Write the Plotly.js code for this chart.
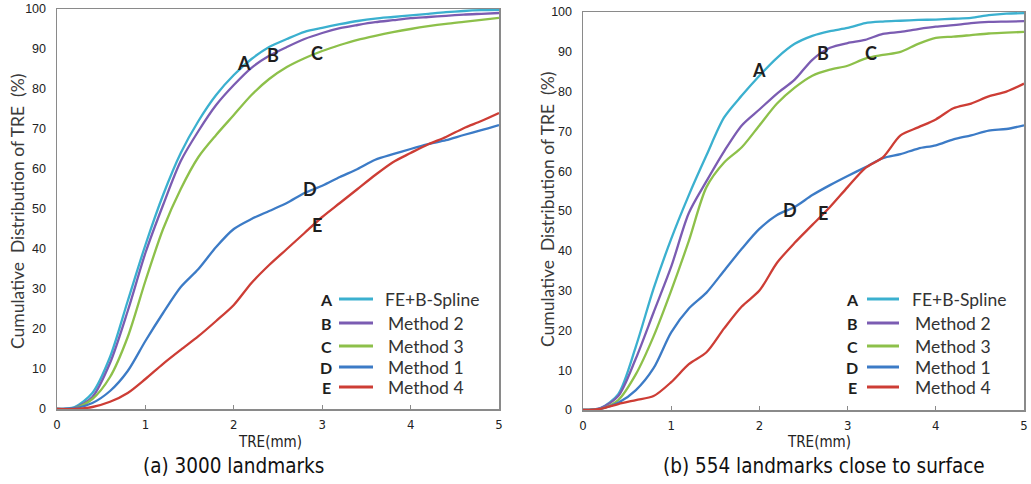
<!DOCTYPE html>
<html>
<head>
<meta charset="utf-8">
<script src="https://cdn.plot.ly/plotly-3.0.1.min.js"></script>
<style>html,body{margin:0;padding:0;background:#fff;}#chart{width:1031px;height:484px;}</style>
</head>
<body>
<div id="chart"></div>
<script>
// ---- data ----
const tre = [0,0.2,0.4,0.6,0.8,1.0,1.2,1.4,1.6,1.8,2.0,2.2,2.4,2.6,2.8,3.0,3.2,3.4,3.6,3.8,4.0,4.2,4.4,4.6,4.8,5.0];

// (a) 3000 landmarks
const feBSpline_a = [0,0.5,4,13,27,41,53.5,64,72,78.5,83.5,87.5,90.5,92.5,94.3,95.3,96.2,97,97.6,98,98.4,98.8,99.2,99.5,99.7,99.8];
const method2_a   = [0,0.3,3,11.5,24.5,39,51,62,69.5,76,81,85.3,88.3,90.5,92.5,94,95.2,96,96.7,97.2,97.7,98,98.3,98.6,98.8,99];
const method3_a   = [0,0.2,2.5,8,18,32,45,55,63,68.5,73.5,78.5,82.5,85.5,87.7,89.5,91,92.3,93.3,94.2,95,95.7,96.3,96.8,97.3,97.8];
const method1_a   = [0,0.2,1.5,4.5,9.5,17,24,30.5,35,40.5,45,47.5,49.5,51.5,54,55.8,58,60,62.3,63.7,65,66.2,67.2,68.5,69.7,71];
const method4_a   = [0,0,0.5,1.8,4,7.5,11.3,14.8,18.2,22,26,31.5,36,40,44,48,51.5,55,58.5,61.7,64,66.2,68,70.2,72,74];

// (b) 554 landmarks close to surface
const feBSpline_b = [0,0.5,4,16,30.5,43,54,64,73.5,79,84,88.5,92,94,95.2,96,97.2,97.6,97.8,98,98.1,98.3,98.5,99.2,99.6,99.7];
const method2_b   = [0,0.5,3.5,13,24.5,36,49.5,57.5,65,71.5,75.5,79.5,83,88,91,92.2,93,94.5,95,95.7,96.3,96.7,97.2,97.5,97.6,97.7];
const method3_b   = [0,0.3,2.5,9,18.5,30,42.5,56,62.2,66,71.5,77,81,84,85.5,86.5,88.3,89.2,90,92,93.5,93.8,94.2,94.6,94.8,95];
const method1_b   = [0,0.3,1.8,5,10.5,19.5,25.5,29.5,35,40.5,45.5,49,51,54,56.5,58.8,61,63.3,64.3,65.7,66.5,68,69,70.2,70.6,71.5];
const method4_b   = [0,0.3,1.5,2.5,3.5,7,11.5,14.5,20.5,26,30,37,42,46.5,51,56,60.8,63.5,69,71,73,75.8,77,78.8,80,82];

const seriesNames = ["FE+B-Spline","Method 2","Method 3","Method 1","Method 4"];
const seriesLetters = ["A","B","C","D","E"];
const seriesColors = ["#3bb0cf","#7b5cb2","#8dc04a","#3c7bc6","#cd3d35"];

const xTicks = [0,1,2,3,4,5];
const yTicks = [0,10,20,30,40,50,60,70,80,90,100];

// curve label positions [x, y]
const labelPos_a = [[2.11,86.4],[2.44,88.5],[2.94,89.1],[2.86,55.1],[2.94,45.9]];
const labelPos_b = [[2.0,85.5],[2.72,89.7],[3.27,89.6],[2.35,50.3],[2.72,49.4]];

const subTitles = ["(a) 3000 landmarks","(b) 554 landmarks close to surface"];
const yTitle = "Cumulative\u00a0 Distribution of TRE\u00a0 (%)";
const xTitle = "TRE(mm)";

// ---- build ----
const W = 1031, H = 484;
const px = v => v / W;
const py = v => 1 - v / H;

const data_a = [feBSpline_a, method2_a, method3_a, method1_a, method4_a];
const data_b = [feBSpline_b, method2_b, method3_b, method1_b, method4_b];

const traces = [];
[data_a, data_b].forEach((set, p) => {
  set.forEach((ys, i) => {
    traces.push({
      x: tre, y: ys, type: 'scatter', mode: 'lines',
      name: seriesNames[i], showlegend: false,
      xaxis: p === 0 ? 'x' : 'x2', yaxis: p === 0 ? 'y' : 'y2',
      line: {color: seriesColors[i], width: 2.3, shape: 'spline', smoothing: 0.8},
      hoverinfo: 'skip'
    });
  });
});

const narrow = "'Liberation Sans Narrow','Arial Narrow','DejaVu Sans Condensed',sans-serif";
const legFont = "Lato, 'Noto Sans', sans-serif";

function xAxis(domain, anchor) {
  return {
    domain: domain, anchor: anchor, range: [0, 5], tickvals: xTicks,
    showline: true, mirror: true, linecolor: '#8a8a8a', linewidth: 1.5,
    ticks: 'inside', ticklen: 4, tickcolor: '#8a8a8a', showgrid: false, zeroline: false,
    tickfont: {family: narrow, size: 13, color: '#222'}, ticklabelstandoff: 3, fixedrange: true
  };
}
function yAxis(domain, anchor) {
  return {
    domain: domain, anchor: anchor, range: [0, 100], tickvals: yTicks,
    showline: true, mirror: true, linecolor: '#8a8a8a', linewidth: 1.5,
    ticks: '', showgrid: false, zeroline: false,
    tickfont: {family: "'Liberation Sans', Arial, sans-serif", size: 12.5, color: '#222'},
    ticklabelstandoff: 7, fixedrange: true
  };
}

const annotations = [];
const shapes = [];

// curve labels
[labelPos_a, labelPos_b].forEach((pos, p) => {
  pos.forEach((xy, i) => {
    annotations.push({
      x: xy[0], y: xy[1], xref: p === 0 ? 'x' : 'x2', yref: p === 0 ? 'y' : 'y2',
      text: '<b>' + seriesLetters[i] + '</b>', showarrow: false,
      font: {family: legFont, size: 18, color: '#1e1e1e'}
    });
  });
});

// legends
const legendRows = [299, 323, 346, 367, 387];
const legendX = [{letter: 326, l0: 339, l1: 373, text: 383}, {letter: 852, l0: 867, l1: 899, text: 910}];
legendX.forEach(L => {
  seriesNames.forEach((nm, i) => {
    const yy = legendRows[i];
    annotations.push({
      x: px(L.letter), y: py(yy), xref: 'paper', yref: 'paper', showarrow: false,
      text: '<b>' + seriesLetters[i] + '</b>', font: {family: legFont, size: 16, color: '#1e1e1e'},
      xanchor: 'center', yanchor: 'middle'
    });
    shapes.push({
      type: 'line', xref: 'paper', yref: 'paper',
      x0: px(L.l0), x1: px(L.l1), y0: py(yy), y1: py(yy),
      line: {color: seriesColors[i], width: 3}
    });
    annotations.push({
      x: px(L.text + (i === 0 ? 0 : 3)), y: py(yy), xref: 'paper', yref: 'paper', showarrow: false,
      text: nm, font: {family: legFont, size: 17.5, color: '#333'},
      xanchor: 'left', yanchor: 'middle'
    });
  });
});

// axis titles and subtitles
[[17, 212], [547, 210]].forEach(c => {
  annotations.push({
    x: px(c[0]), y: py(c[1]), xref: 'paper', yref: 'paper', showarrow: false,
    text: yTitle, textangle: -90, font: {family: legFont, size: 17.5, color: '#3a3a3a'},
    xanchor: 'center', yanchor: 'middle'
  });
});
[270, 819].forEach(cx => {
  annotations.push({
    x: px(cx), y: py(442), xref: 'paper', yref: 'paper', showarrow: false,
    text: xTitle, font: {family: narrow, size: 15, color: '#222'},
    xanchor: 'center', yanchor: 'middle'
  });
});
[233, 824].forEach((cx, i) => {
  annotations.push({
    x: px(cx), y: py(466), xref: 'paper', yref: 'paper', showarrow: false,
    text: subTitles[i], font: {family: narrow, size: 20.5, color: '#111'},
    xanchor: 'center', yanchor: 'middle'
  });
});

const layout = {
  width: W, height: H,
  margin: {l: 0, r: 0, t: 0, b: 0},
  paper_bgcolor: '#fff', plot_bgcolor: '#fff',
  showlegend: false,
  xaxis: xAxis([px(57), px(499)], 'y'),
  yaxis: yAxis([py(409), py(9)], 'x'),
  xaxis2: xAxis([px(583), px(1024)], 'y2'),
  yaxis2: yAxis([py(410), py(12)], 'x2'),
  annotations: annotations,
  shapes: shapes
};

Plotly.newPlot('chart', traces, layout, {displayModeBar: false, staticPlot: true});
</script>
</body>
</html>
